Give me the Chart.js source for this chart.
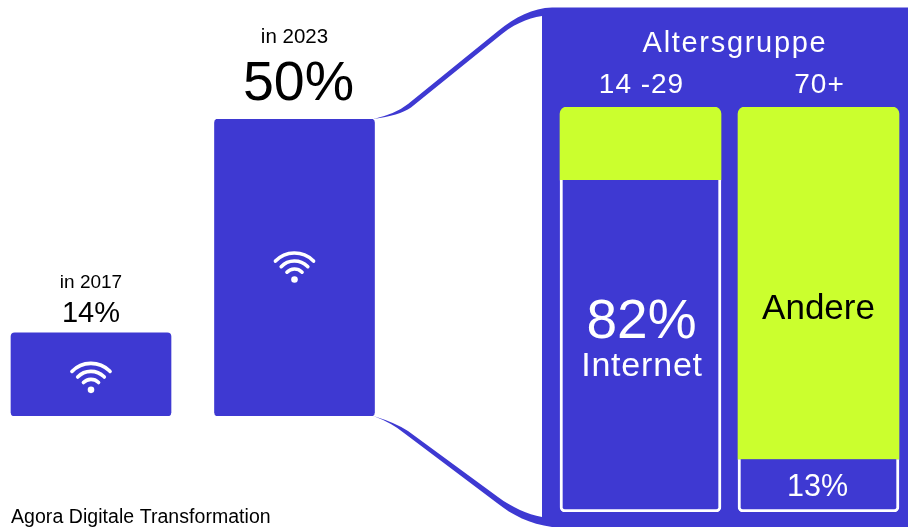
<!DOCTYPE html>
<html lang="de">
<head>
<meta charset="utf-8">
<title>Agora Digitale Transformation</title>
<script src="https://cdn.jsdelivr.net/npm/chart.js@4"></script>
<style>
  html, body { margin: 0; padding: 0; background: #fff; overflow: hidden; }
  #stage { position: relative; width: 908px; height: 527px; overflow: hidden; }
  canvas { position: absolute; top: 0; }
  #yearChart { left: -11px; }
  #ageChart { left: 551px; }
</style>
</head>
<body>
<div id="stage">
  <canvas id="yearChart" width="919" height="527"></canvas>
  <canvas id="ageChart" width="357" height="527"></canvas>
</div>
<script>
// Values
const years = ['in 2017', 'in 2023'];
const yearShare = [14, 50];
const ageGroups = ['14 -29', '70+'];
const internetShare = [82, 13];
const otherShare = [18, 87];
const panelTitle = 'Altersgruppe';
const sourceText = 'Agora Digitale Transformation';

const BLUE = '#3e39d2';
const LIME = '#cbff2e';
const FONT = '"Liberation Sans", Arial, sans-serif';

function drawText(ctx, text, x, y, size, color, align, spacing) {
  ctx.save();
  ctx.font = size + 'px ' + FONT;
  ctx.fillStyle = color;
  ctx.textAlign = align || 'center';
  ctx.textBaseline = 'alphabetic';
  ctx.letterSpacing = (spacing || 0) + 'px';
  ctx.fillText(text, x, y);
  ctx.restore();
}

// Wifi symbol: three arcs around a dot
function drawWifi(ctx, x, y) {
  const half = 46 * Math.PI / 180;
  ctx.save();
  ctx.strokeStyle = '#fff';
  ctx.fillStyle = '#fff';
  ctx.lineWidth = 3.6;
  ctx.lineCap = 'round';
  [26.5, 18.5, 10.5].forEach(r => {
    ctx.beginPath();
    ctx.arc(x, y, r, -Math.PI / 2 - half, -Math.PI / 2 + half);
    ctx.stroke();
  });
  ctx.beginPath();
  ctx.arc(x, y, 3.3, 0, Math.PI * 2);
  ctx.fill();
  ctx.restore();
}

// Blue panel with the two funnel arms reaching back to the 2023 bar.
// The canvas sits 11px left of the page, so shift everything by that.
const funnelPlugin = {
  id: 'funnel',
  beforeDatasetsDraw(chart) {
    const ctx = chart.ctx;
    const bar = chart.getDatasetMeta(0).data[1];
    const sx = bar.x + bar.width / 2 - 11 - 1;
    ctx.save();
    ctx.translate(11, 0);
    ctx.fillStyle = BLUE;
    ctx.beginPath();
    ctx.moveTo(sx, bar.y);
    ctx.quadraticCurveTo(396, 113.7, 408, 104);
    ctx.lineTo(498, 31);
    ctx.bezierCurveTo(515, 17, 533, 8, 552, 7.5);
    ctx.lineTo(908, 7.5);
    ctx.lineTo(908, 527);
    ctx.lineTo(552, 527);
    ctx.bezierCurveTo(530, 524, 512, 515, 497, 503);
    ctx.lineTo(404, 433);
    ctx.quadraticCurveTo(392, 423, sx, bar.base);
    ctx.quadraticCurveTo(396, 423, 408, 431);
    ctx.lineTo(498, 497);
    ctx.bezierCurveTo(513, 508, 527, 514, 542, 517);
    ctx.lineTo(542, 16);
    ctx.bezierCurveTo(527, 18, 512, 25, 497, 38);
    ctx.lineTo(411, 107.5);
    ctx.quadraticCurveTo(399, 115.6, sx, bar.y);
    ctx.closePath();
    ctx.fill();
    ctx.restore();
  }
};

const yearLabelsPlugin = {
  id: 'yearLabels',
  afterDatasetsDraw(chart) {
    const ctx = chart.ctx;
    const styles = [
      { yearSize: 19, yearGap: 45, shareSize: 29, shareGap: 11, shareShift: 0, wifi: 57 },
      { yearSize: 20.5, yearGap: 76, shareSize: 55.5, shareGap: 19, shareShift: 4, wifi: 160.5 }
    ];
    chart.getDatasetMeta(0).data.forEach((bar, i) => {
      const s = styles[i];
      drawText(ctx, years[i], bar.x, bar.y - s.yearGap, s.yearSize, '#000');
      drawText(ctx, yearShare[i] + '%', bar.x + s.shareShift, bar.y - s.shareGap, s.shareSize, '#000');
      drawWifi(ctx, bar.x, bar.y + s.wifi);
    });
    drawText(ctx, sourceText, 22, 523, 19.5, '#000', 'left', 0.05);
  }
};

const ageLabelsPlugin = {
  id: 'ageLabels',
  afterDatasetsDraw(chart) {
    const ctx = chart.ctx;
    const inner = chart.getDatasetMeta(0).data;
    const outer = chart.getDatasetMeta(1).data;
    const middle = (inner[0].x + inner[1].x) / 2;
    drawText(ctx, panelTitle, middle + 5.5, 52, 29, '#fff', 'center', 1.7);
    ageGroups.forEach((group, i) => {
      drawText(ctx, group, inner[i].x + 1, 93, 28, '#fff', 'center', 1);
    });
    drawText(ctx, internetShare[0] + '%', inner[0].x + 1, inner[0].y + 158, 55, '#fff');
    drawText(ctx, 'Internet', inner[0].x + 1.5, inner[0].y + 196, 34, '#fff', 'center', 0.8);
    drawText(ctx, 'Andere', outer[1].x, outer[1].y + 212, 35, '#000');
    drawText(ctx, internetShare[1] + '%', inner[1].x - 1, inner[1].y + 37, 30.5, '#fff');
  }
};

const hiddenScale = { display: false, grid: { display: false } };

new Chart(document.getElementById('yearChart'), {
  type: 'bar',
  data: {
    labels: years,
    datasets: [{
      data: yearShare,
      backgroundColor: BLUE,
      borderRadius: 4,
      borderSkipped: false,
      barThickness: 160
    }]
  },
  options: {
    responsive: false,
    animation: false,
    events: [],
    layout: { padding: { left: 0.25, right: 511.75, top: 119, bottom: 111 } },
    plugins: { legend: { display: false }, tooltip: { enabled: false } },
    scales: {
      x: hiddenScale,
      y: { ...hiddenScale, min: 0, max: 50 }
    }
  },
  plugins: [funnelPlugin, yearLabelsPlugin]
});

new Chart(document.getElementById('ageChart'), {
  type: 'bar',
  data: {
    labels: ageGroups,
    datasets: [
      {
        label: 'Internet',
        data: internetShare,
        backgroundColor: BLUE,
        borderColor: '#fff',
        borderWidth: { top: 0, left: 3, right: 3, bottom: 3 },
        borderRadius: { topLeft: 0, topRight: 0, bottomLeft: 5, bottomRight: 5 },
        borderSkipped: false,
        barThickness: 161
      },
      {
        label: 'Andere',
        data: otherShare,
        backgroundColor: LIME,
        borderWidth: 0,
        borderRadius: { topLeft: 7, topRight: 7, bottomLeft: 0, bottomRight: 0 },
        borderSkipped: false,
        barThickness: 161
      }
    ]
  },
  options: {
    responsive: false,
    animation: false,
    events: [],
    layout: { padding: { left: 0.5, right: 0.5, top: 107, bottom: 15 } },
    plugins: { legend: { display: false }, tooltip: { enabled: false } },
    scales: {
      x: { ...hiddenScale, stacked: true },
      y: { ...hiddenScale, stacked: true, min: 0, max: 100 }
    }
  },
  plugins: [ageLabelsPlugin]
});
</script>
</body>
</html>
